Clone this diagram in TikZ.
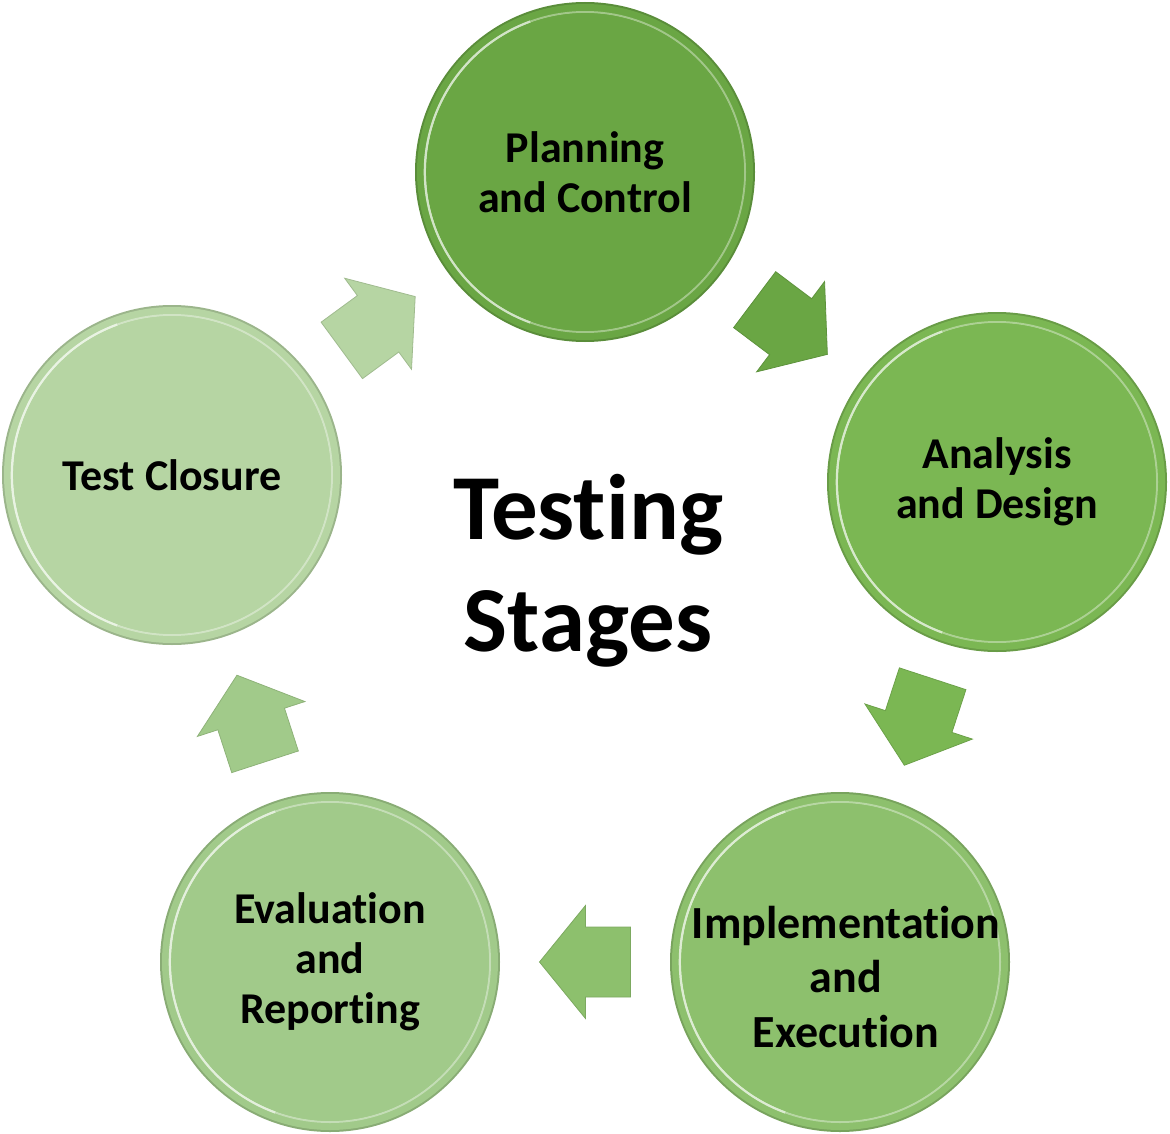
\documentclass[tikz,border=0pt]{standalone}
\usepackage{fontspec}
\setmainfont{Carlito}[Ligatures={NoCommon}]
\usetikzlibrary{calc}
\definecolor{cA}{HTML}{6AA644}
\definecolor{cB}{HTML}{7BB753}
\definecolor{cC}{HTML}{8DC06D}
\definecolor{cD}{HTML}{A1CA8A}
\definecolor{cE}{HTML}{B6D5A3}
\newcommand{\stagefont}{\fontsize{44}{50}\selectfont\bfseries}
\newcommand{\implfont}{\fontsize{46}{54.5}\selectfont\bfseries}
\newcommand{\titlefont}{\fontsize{93}{112}\selectfont\bfseries}
\newcommand{\blockarr}[3]{%
  \path let \p1=($(#2)-(#1)$), \n1={atan2(\y1,\x1)} in \pgfextra{\xdef\barang{\n1}};
  \begin{scope}[shift={($(#1)!0.5!(#2)$)}, rotate=\barang]
    \fill[#3, draw=#3!88!black, line width=0.8pt, line join=miter]
      (-45.5pt,-35pt) -- (-0.5pt,-35pt) -- (-0.5pt,-56.5pt) -- (45.5pt,0pt)
      -- (-0.5pt,56.5pt) -- (-0.5pt,35pt) -- (-45.5pt,35pt) -- cycle;
  \end{scope}}
\tikzset{
  stage/.style={circle, minimum size=340pt, inner sep=0pt, fill=#1!85!black,
    align=center, font=\stagefont, text=black,
    path picture={
      \fill[#1] (path picture bounding box.center) circle (168pt);
      \draw[#1!50!white, line width=2pt, opacity=0.75]
        (path picture bounding box.center) circle (160pt);
      \draw[#1!30!white, line width=2.5pt]
        (path picture bounding box.center) ++(110:160pt) arc[start angle=110, end angle=250, radius=160pt];
      \fill[#1] (path picture bounding box.center) circle (158.8pt);
    }},
}
\begin{document}
\begin{tikzpicture}[x=1pt, y=-1pt]
  \useasboundingbox (0,0) rectangle (1170,1134);
  \node[stage=cA] (pc) at (585,172) {Planning\\and Control};
  \node[stage=cB] (ad) at (997,482) {Analysis\\and Design};
  \node[stage=cC,
        label={[font=\implfont, align=center, text=black, xshift=6pt, yshift=-15pt]center:{Implementation\\and\\Execution}}]
        (ie) at (840,962) {};
  \node[stage=cD] (er) at (330,962) {Evaluation\\and\\Reporting};
  \node[stage=cE] (tc) at (172,475) {Test Closure};
  \node[font=\titlefont, align=center, text=black] (title) at (588,571) {Testing\\Stages};
  \blockarr{pc}{ad}{cA}
  \blockarr{ad}{ie}{cB}
  \blockarr{ie}{er}{cC}
  \blockarr{er}{tc}{cD}
  \blockarr{tc}{pc}{cE}
\end{tikzpicture}
\end{document}
